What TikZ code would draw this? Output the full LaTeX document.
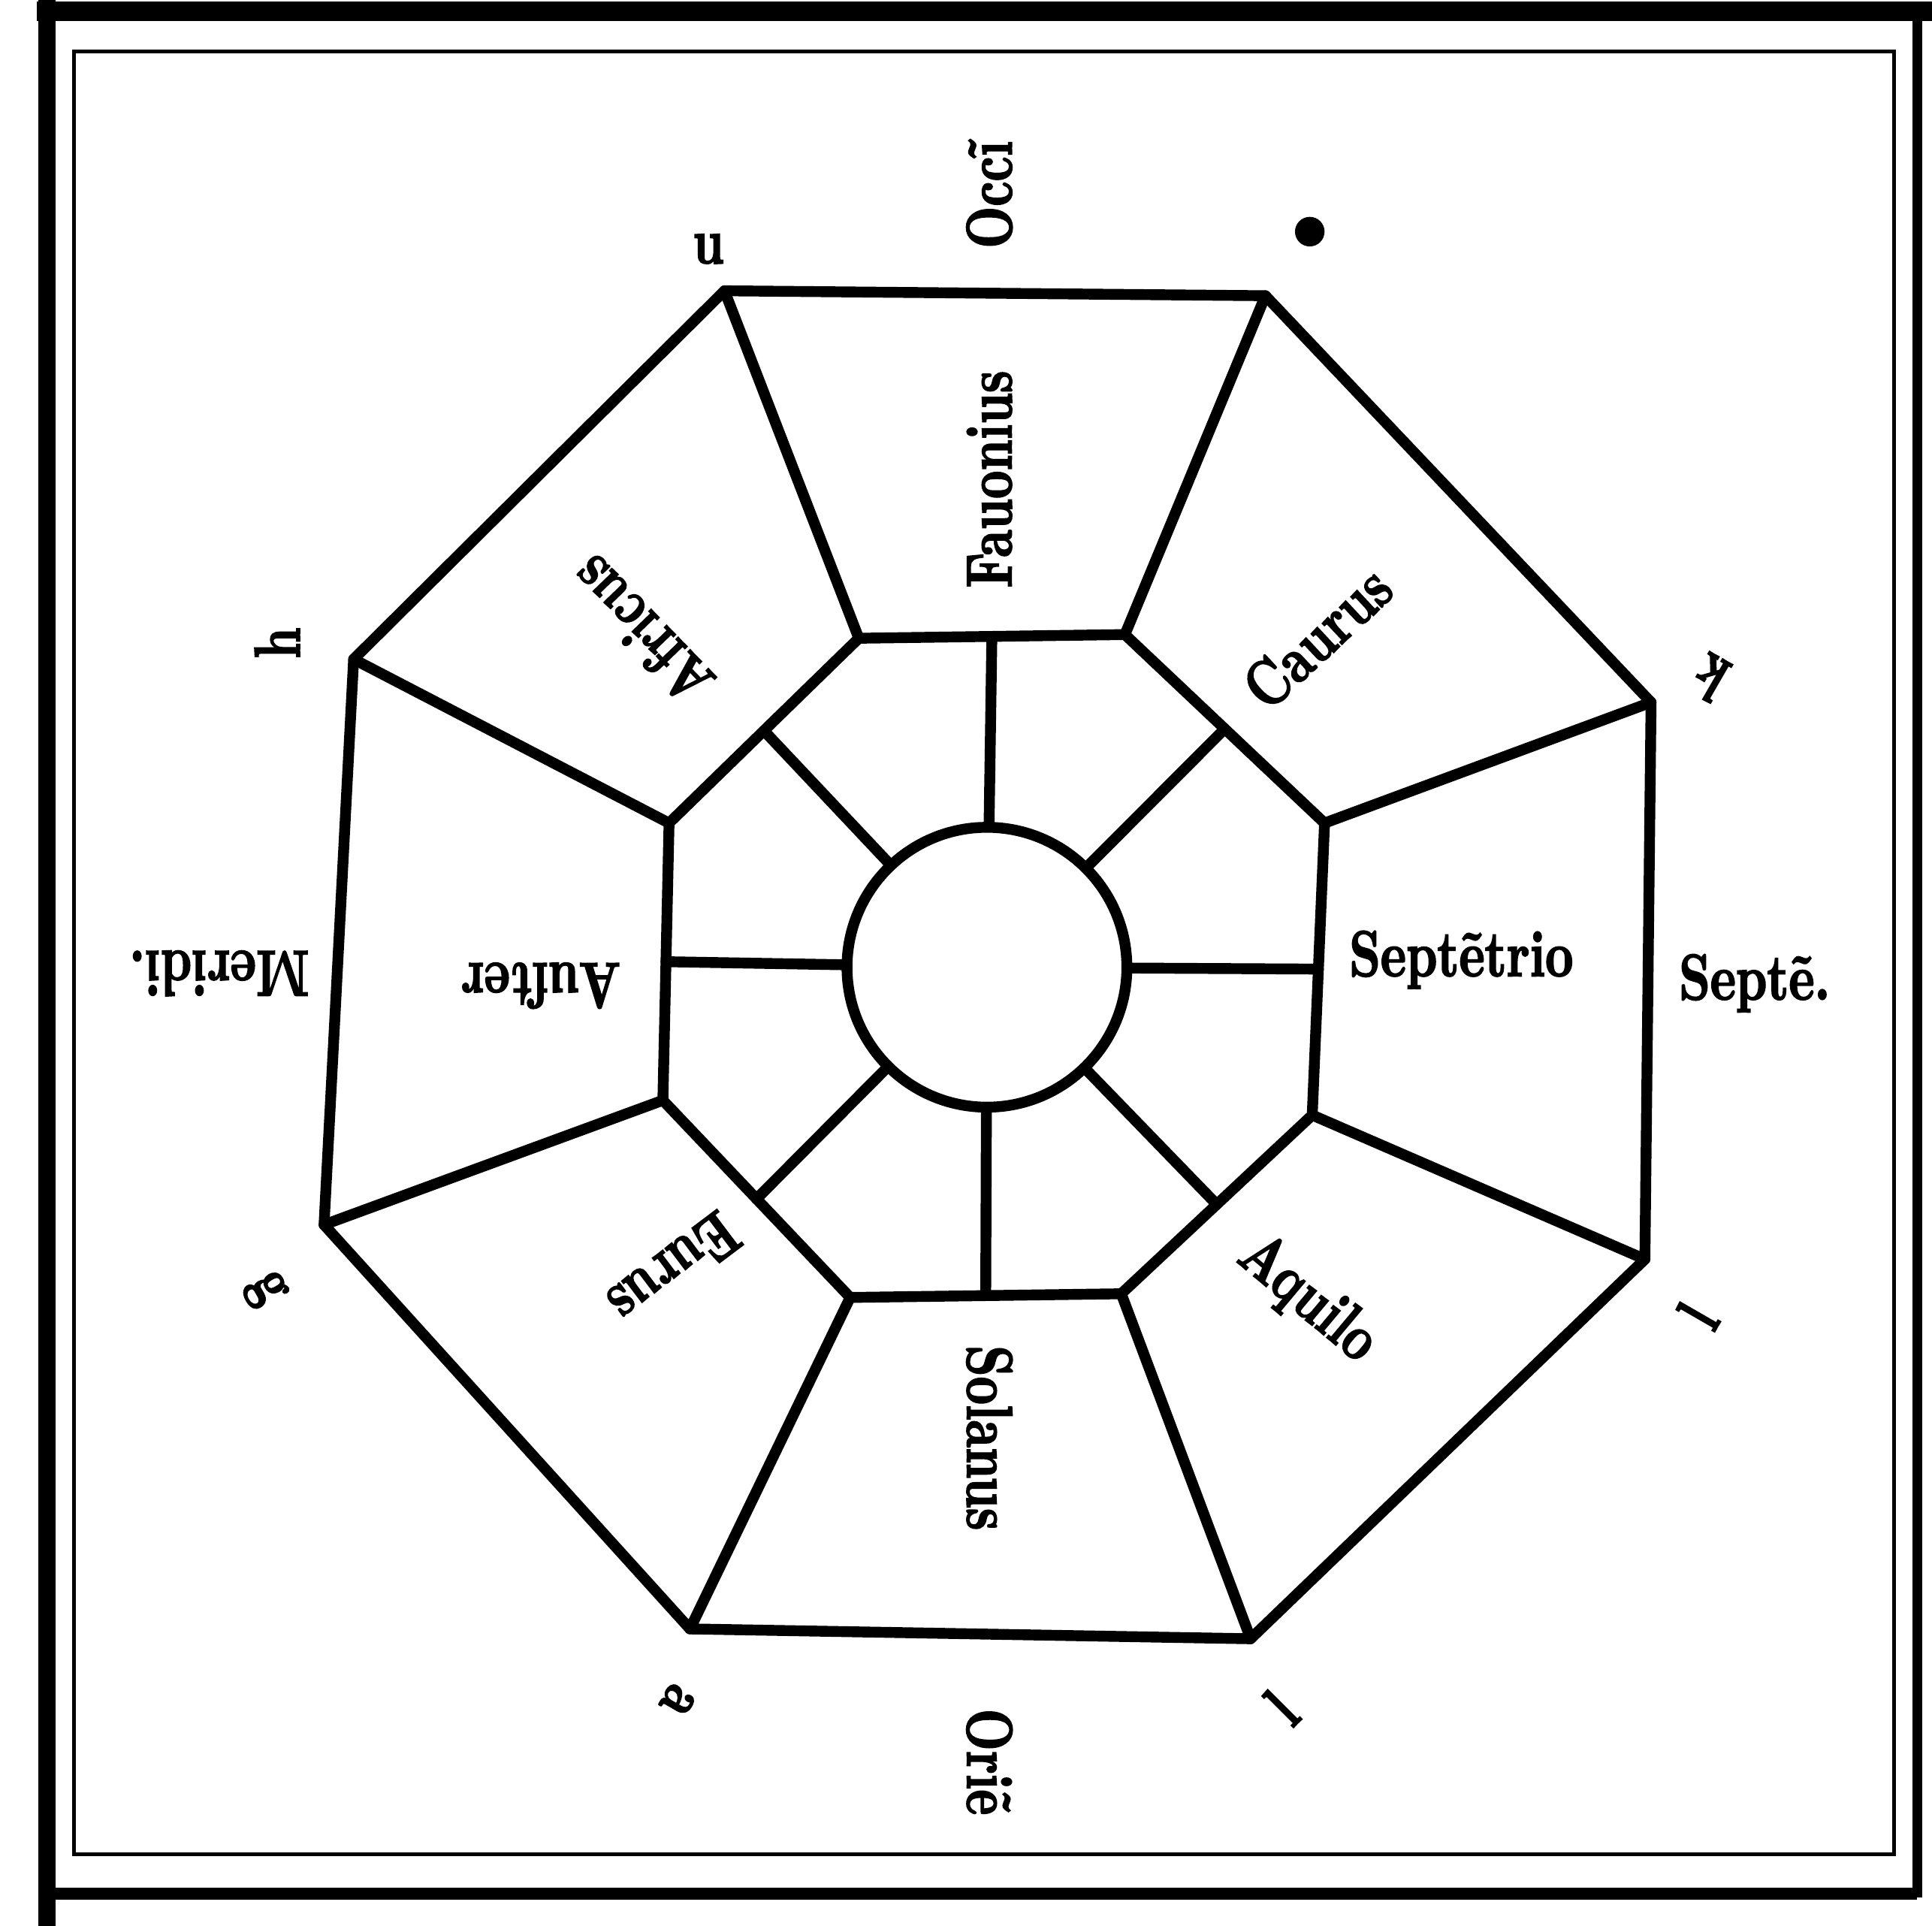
\documentclass[tikz,border=0pt]{standalone}
\usepackage{fontspec}
\usetikzlibrary{calc}
\newfontfamily\woodfont{lmroman10-bold.otf}[FakeStretch=0.75, FakeBold=2]

\tikzset{
  rib/.style={line width=2.5pt, line join=round, line cap=round},
  wind/.style={font=\woodfont\fontsize{15}{15}\selectfont, inner sep=0pt},
  letter/.style={font=\woodfont\fontsize{15}{15}\selectfont, inner sep=0pt},
}

\begin{document}
\begin{tikzpicture}[x=0.01cm, y=-0.01cm]
        \useasboundingbox (0,0) rectangle (1568,1563);

        % frame, thick outside and thin inside
        \draw[line width=4.5pt] (30,9) -- (1568,9);
        \draw[line width=4pt] (38,0) -- (38,1563);
        \draw[line width=2.3pt] (1556,9) -- (1556,1540);
        \draw[line width=2.8pt] (38,1537) -- (1556,1537);
        \draw[line width=0.85pt] (60,42) rectangle (1537,1505);

        % outer octagon
        \coordinate (oa) at (588,236);
        \coordinate (ob) at (1027,240);
        \coordinate (oc) at (1340,570);
        \coordinate (od) at (1335,1022);
        \coordinate (oe) at (1015,1330);
        \coordinate (of) at (560,1322);
        \coordinate (og) at (263,994);
        \coordinate (oh) at (287,535);
        \draw[rib] (oa) -- (ob) -- (oc) -- (od) -- (oe) -- (of) -- (og) -- (oh) -- cycle;

        % middle octagon
        \coordinate (ma) at (697,518);
        \coordinate (mb) at (913,515);
        \coordinate (mc) at (1075,668);
        \coordinate (md) at (1065,905);
        \coordinate (me) at (910,1050);
        \coordinate (mf) at (690,1053);
        \coordinate (mg) at (538,893);
        \coordinate (mh) at (543,668);
        \draw[rib] (ma) -- (mb) -- (mc) -- (md) -- (me) -- (mf) -- (mg) -- (mh) -- cycle;

        % corners joined
        \foreach \k in {a,b,c,d,e,f,g,h}
          \draw[rib] (o\k) -- (m\k);

        % hub and its spokes
        \node[rib, draw, circle, minimum size=2.27cm, inner sep=0pt] (hub) at (801,785) {};
        \foreach \p/\q in {a/b,b/c,c/d,d/e,e/f,f/g,g/h,h/a}
          \draw[rib] (hub) -- ($(m\p)!0.5!(m\q)$);

        % winds
        \node[wind, rotate=90] (fauonius) at (803,389) {Fauonius};
        \node[wind, rotate=43] (caurus) at (1069,517) {Caurus};
        \node[wind] (septentrio) at (1186,779) {Septẽtrio};
        \node[wind, rotate=-40] (aquilo) at (1061,1055) {Aquilo};
        \node[wind, rotate=-90] (solanus) at (803,1167) {Solanus};
        \node[wind, rotate=217] (eurus) at (547,1030) {Eurus};
        \node[wind, rotate=180] (auster) at (439,800) {Auſter};
        \node[wind, rotate=134] (africus) at (520,512) {Africus};

        % quarters
        \node[wind, rotate=90] (occi) at (803,158) {Occĩ};
        \node[wind] (septe) at (1424,798) {Septẽ.};
        \node[wind, rotate=-90] (orie) at (803,1430) {Oriẽ};
        \node[wind, rotate=180] (meridi) at (178,790) {Meridi.};

        % corner letters
        \node[letter] (na) at (575,202) {u};
        \fill (1063,188) circle (12);
        \node[letter, rotate=150] (nc) at (1388,550) {k};
        \node[letter, rotate=60] (nd) at (1378,1068) {l};
        \node[letter, rotate=45] (ne) at (1040,1386) {l};
        \node[letter, rotate=-120] (nf) at (550,1380) {a};
        \node[letter, rotate=-60] (ng) at (215,1047) {g};
        \node[letter, rotate=90] (nh) at (225,522) {h};
    \end{tikzpicture}
\end{document}
